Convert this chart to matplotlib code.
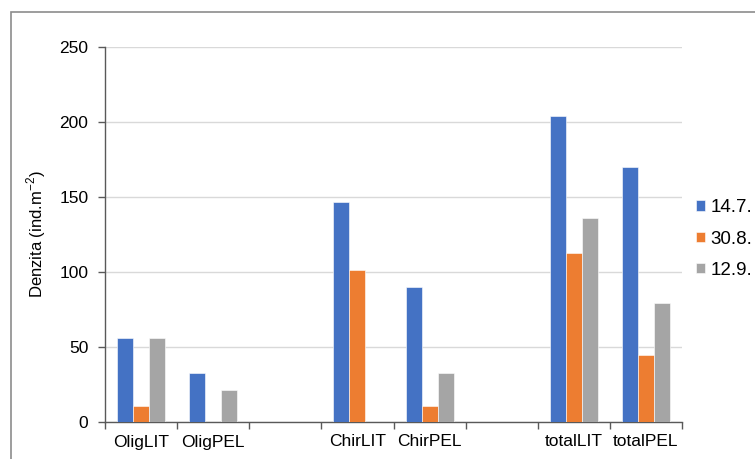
import matplotlib.pyplot as plt
import matplotlib.patches as mpatches
import numpy as np

plt.rcParams['font.family'] = ['Liberation Sans', 'DejaVu Sans']

categories = ['OligLIT', 'OligPEL', '', 'ChirLIT', 'ChirPEL', '', 'totalLIT', 'totalPEL']
series_labels = ['14.7.', '30.8.', '12.9.']
d_14_7 = [56, 33, 0, 147, 90, 0, 204, 170]
d_30_8 = [10.5, 0, 0, 101.5, 10.5, 0, 113, 45]
d_12_9 = [56, 21.5, 0, 0, 33, 0, 136, 79.5]
colors = ['#4472C4', '#ED7D31', '#A5A5A5']

fig = plt.figure(figsize=(7.55, 4.59), dpi=100)
ax = fig.add_axes([105 / 755, 1 - 422 / 459, 577 / 755, 375 / 459])

x = np.arange(len(categories))
w = 0.222
for i, (vals, lab, c) in enumerate(zip([d_14_7, d_30_8, d_12_9], series_labels, colors)):
    ax.bar(x + (i - 1) * w, vals, width=w, color=c, label=lab,
           edgecolor='white', linewidth=0.4, zorder=3)

ax.set_xlim(-0.5, len(categories) - 0.5)
ax.set_ylim(0, 250)
ax.set_yticks(range(0, 251, 50))
ax.grid(axis='y', color='#D9D9D9', linewidth=1, zorder=0)

# category labels at centres, tick marks on category boundaries
ax.set_xticks(x)
ax.set_xticklabels(categories, fontsize=12.5)
ax.set_xticks(np.arange(-0.5, len(categories), 1), minor=True)
ax.tick_params(axis='x', which='major', length=0, pad=9)
ax.tick_params(axis='x', which='minor', length=5, color='#595959', width=1)
ax.tick_params(axis='y', length=5, color='#595959', width=1, labelsize=12.5, pad=7)

for s in ['top', 'right']:
    ax.spines[s].set_visible(False)
for s in ['left', 'bottom']:
    ax.spines[s].set_color('#595959')
    ax.spines[s].set_linewidth(1)

ax.set_ylabel('Denzita (ind.m$^{\\mathregular{-2}}$)', fontsize=12, labelpad=8)

fig.legend(loc='center left', bbox_to_anchor=(688 / 755, 1 - 239 / 459), frameon=False,
           fontsize=13.5, handlelength=0.5, handleheight=0.5, handletextpad=0.3,
           labelspacing=0.75, borderaxespad=0)

# outer chart frame
fig.patches.append(mpatches.Rectangle((11 / 755, -0.1), 1.5, 1 - 12 / 459 + 0.1,
                                      transform=fig.transFigure, fill=False,
                                      edgecolor='#8C8C8C', linewidth=1.2))

fig.savefig('out.png', dpi=100)
